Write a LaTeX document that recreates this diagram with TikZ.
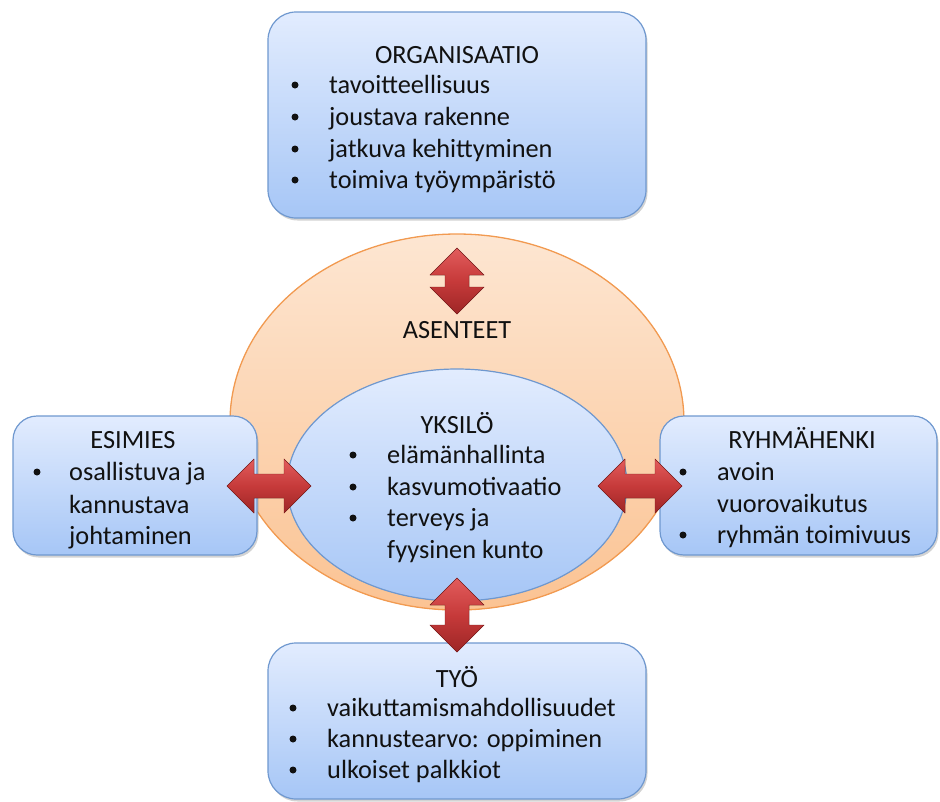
\documentclass[tikz,border=0pt]{standalone}
\usepackage{fontspec}
\setmainfont{Carlito}
\usetikzlibrary{shadows}
\definecolor{boxtop}{HTML}{E2ECFE}
\definecolor{boxbot}{HTML}{A6C6F6}
\definecolor{boxline}{HTML}{6F98CF}
\definecolor{orgtop}{HTML}{FDE6D2}
\definecolor{orgbot}{HTML}{FBC393}
\definecolor{orgline}{HTML}{F29A50}
\definecolor{arrtop}{HTML}{E25C5C}
\definecolor{arrmid}{HTML}{C63A3A}
\definecolor{arrbot}{HTML}{9E2626}
\definecolor{txt}{HTML}{111111}
\tikzset{
  infobox/.style={draw=boxline, line width=1.2pt, rounded corners=28pt,
    top color=boxtop, bottom color=boxbot,
    drop shadow={opacity=0.35, shadow xshift=1.5pt, shadow yshift=-2.5pt},
    inner sep=0pt},
  title/.style={font=\fontsize{26.3}{32}\selectfont, text=txt, anchor=base,
    inner sep=0pt, yshift=-10pt},
  item/.style={font=\fontsize{26.3}{32}\selectfont, text=txt, anchor=base west,
    inner sep=0pt, yshift=-8.5pt},
  dot/.style={circle, fill=txt, inner sep=0pt, minimum size=7pt},
  dblarrow/.pic={
    \fill[top color=arrtop, bottom color=arrbot, middle color=arrmid,
          draw=arrbot!80!black, line width=0.4pt]
      (-#1/2,0) -- (-#1/2+27,-27) -- (-#1/2+27,-12) -- (#1/2-27,-12)
      -- (#1/2-27,-27) -- (#1/2,0) -- (#1/2-27,27) -- (#1/2-27,12)
      -- (-#1/2+27,12) -- (-#1/2+27,27) -- cycle;
  }
}
\begin{document}
\begin{tikzpicture}[x=1pt, y=-1pt]
\useasboundingbox (0,0) rectangle (940,801);

% attitudes ring and the individual at its centre
\fill[top color=orgtop, bottom color=orgbot, draw=orgline, line width=1.3pt]
  (457,422) ellipse [x radius=227, y radius=188];
\coordinate (asenteet) at (457,328);
\node[title] (asT) at (asenteet) {ASENTEET};
\fill[top color=boxtop, bottom color=boxbot, draw=boxline, line width=1.2pt]
  (457,485) ellipse [x radius=170, y radius=116];
\node[title] (yksT) at (457,423) {YKSILÖ};
\node[dot] (y1) at (353,455) {};
\node[item] (y1t) at (387,455) {elämänhallinta};
\node[dot] (y2) at (353,487) {};
\node[item] (y2t) at (387,487) {kasvumotivaatio};
\node[dot] (y3) at (353,518) {};
\node[item] (y3t) at (387,518) {terveys ja};
\node[item] (y4t) at (387,550) {fyysinen kunto};

% organisation
\node[infobox, minimum width=378pt, minimum height=206pt] (org) at (457,115) {};
\node[title] (orgT) at (457,53) {ORGANISAATIO};
\node[dot] (o1) at (295,85) {};
\node[item] (o1t) at (329,85) {tavoitteellisuus};
\node[dot] (o2) at (295,117) {};
\node[item] (o2t) at (329,117) {joustava rakenne};
\node[dot] (o3) at (295,149) {};
\node[item] (o3t) at (329,149) {jatkuva kehittyminen};
\node[dot] (o4) at (295,180) {};
\node[item] (o4t) at (329,180) {toimiva työympäristö};

% supervisor
\node[infobox, minimum width=244pt, minimum height=139pt, rounded corners=24pt] (esi) at (135,485.5) {};
\node[title] (esiT) at (133,438) {ESIMIES};
\node[dot] (e1) at (37,472) {};
\node[item] (e1t) at (69,472) {osallistuva ja};
\node[item] (e2t) at (69,505) {kannustava};
\node[item] (e3t) at (69,536) {johtaminen};

% team spirit
\node[infobox, minimum width=277pt, minimum height=139pt, rounded corners=24pt] (ryh) at (798.5,485.5) {};
\node[title] (ryhT) at (802,438) {RYHMÄHENKI};
\node[dot] (r1) at (683,472) {};
\node[item] (r1t) at (717,472) {avoin};
\node[item] (r2t) at (717,504) {vuorovaikutus};
\node[dot] (r3) at (683,535) {};
\node[item] (r3t) at (717,535) {ryhmän toimivuus};

% work
\node[infobox, minimum width=378pt, minimum height=156pt] (tyo) at (457,721) {};
\node[title] (tyoT) at (457,677) {TYÖ};
\node[dot] (t1) at (293,708) {};
\node[item] (t1t) at (327,708) {vaikuttamismahdollisuudet};
\node[dot] (t2) at (293,739) {};
\node[item] (t2t) at (327,739) {kannustearvo: oppiminen};
\node[dot] (t3) at (293,770) {};
\node[item] (t3t) at (327,770) {ulkoiset palkkiot};

% two-way influence arrows
\pic (aTop) at (457,281) [rotate=90] {dblarrow=66};
\pic (aLeft) at (269,486) {dblarrow=84};
\pic (aRight) at (640,486) {dblarrow=84};
\pic (aBot) at (457,615) [rotate=90] {dblarrow=74};
\end{tikzpicture}
\end{document}
